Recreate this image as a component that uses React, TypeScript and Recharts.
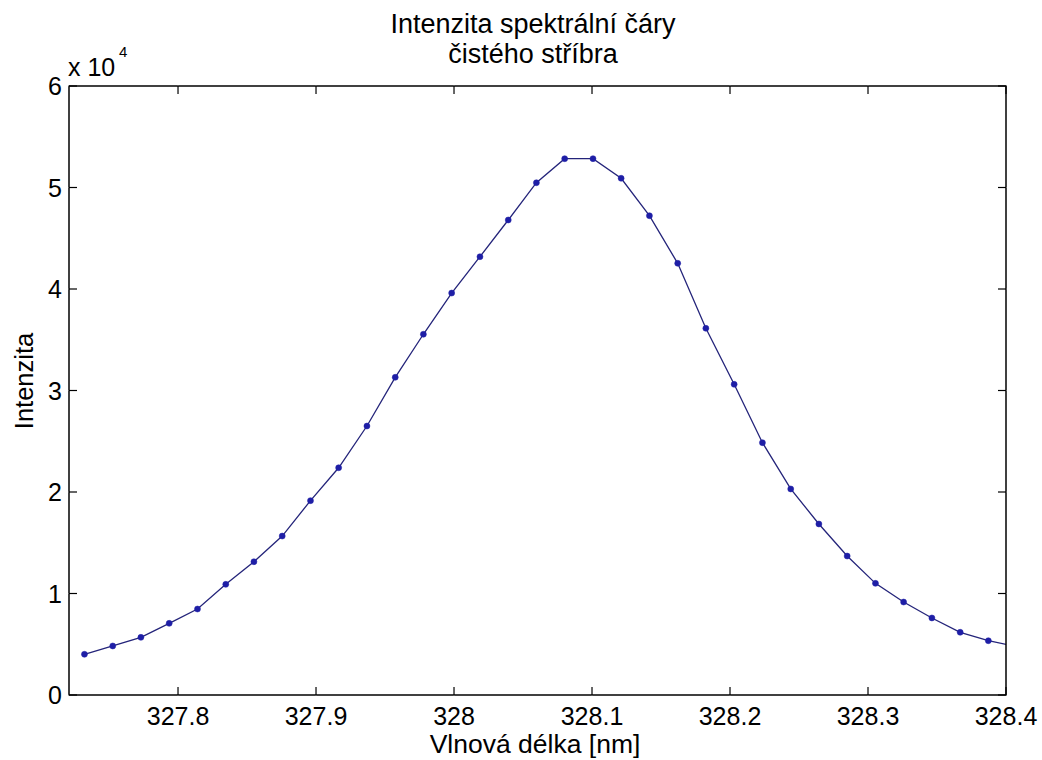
import React from "react"
import { LineChart, Line, XAxis, YAxis } from "recharts"

// wavelength [nm] of each sample
const wavelengths = [
  327.7322, 327.7527, 327.7731, 327.7936, 327.8141, 327.8346, 327.855, 327.8755,
  327.896, 327.9164, 327.9369, 327.9574, 327.9778, 327.9983, 328.0188, 328.0393,
  328.0597, 328.0802, 328.1007, 328.1211, 328.1416, 328.1621, 328.1825, 328.203,
  328.2235, 328.244, 328.2644, 328.2849, 328.3054, 328.3258, 328.3463, 328.3668,
  328.3872, 328.4077
]

// measured intensity
const intensity = [
  4010, 4830, 5680, 7060, 8470, 10900, 13130, 15660,
  19150, 22390, 26500, 31300, 35540, 39600, 43180, 46800,
  50470, 52840, 52840, 50910, 47220, 42530, 36130, 30610,
  24860, 20300, 16850, 13690, 11000, 9160, 7590, 6180,
  5350, 4770
]

const xTicks = [327.8, 327.9, 328, 328.1, 328.2, 328.3, 328.4]
const yTicks = [0, 10000, 20000, 30000, 40000, 50000, 60000]

const titleLines = ["Intenzita spektrální čáry", "čistého stříbra"]

const FONT = "'Liberation Sans', Arial, sans-serif"
const TICK = 8

// plot box (page pixels)
const LEFT = 69
const TOP = 86
const RIGHT = 1006
const BOTTOM = 695

const data = wavelengths.map((w, i) => ({ w, v: intensity[i] }))

const BottomTick = (props: any) => {
  const { x, payload } = props
  return (
    <g>
      <line x1={x} y1={BOTTOM} x2={x} y2={BOTTOM - TICK} stroke="#000" strokeWidth={1.2} />
      <text x={x} y={BOTTOM + 30} textAnchor="middle" fontSize={25} fontFamily={FONT} fill="#000">
        {String(payload.value)}
      </text>
    </g>
  )
}

const TopTick = (props: any) => {
  const { x } = props
  return <line x1={x} y1={TOP} x2={x} y2={TOP + TICK} stroke="#000" strokeWidth={1.2} />
}

const LeftTick = (props: any) => {
  const { y, payload } = props
  return (
    <g>
      <line x1={LEFT} y1={y} x2={LEFT + TICK} y2={y} stroke="#000" strokeWidth={1.2} />
      <text x={LEFT - 7} y={y + 9} textAnchor="end" fontSize={25} fontFamily={FONT} fill="#000">
        {String(payload.value / 10000)}
      </text>
    </g>
  )
}

const RightTick = (props: any) => {
  const { y } = props
  return <line x1={RIGHT} y1={y} x2={RIGHT - TICK} y2={y} stroke="#000" strokeWidth={1.2} />
}

export default function App() {
  return (
    <div style={{ position: "absolute", left: 0, top: 0, width: 1042, height: 760, background: "#fff" }}>
      <LineChart width={1042} height={760} data={data} margin={{ top: TOP - 1, right: 1042 - RIGHT - 1, bottom: 0, left: 0 }}>
        <XAxis
          dataKey="w"
          type="number"
          domain={[327.721, 328.4]}
          allowDataOverflow
          ticks={xTicks}
          interval={0}
          height={760 - BOTTOM}
          tickSize={1}
          tickMargin={0}
          tick={BottomTick}
          axisLine={{ stroke: "#000", strokeWidth: 1.5 }}
          label={{
            content: () => (
              <text x={535} y={753} textAnchor="middle" fontSize={26.5} fontFamily={FONT} fill="#000">
                Vlnová délka [nm]
              </text>
            )
          }}
        />
        <XAxis
          xAxisId="top"
          orientation="top"
          dataKey="w"
          type="number"
          domain={[327.721, 328.4]}
          allowDataOverflow
          ticks={xTicks}
          interval={0}
          height={1}
          tickSize={1}
          tickMargin={0}
          tick={TopTick}
          axisLine={{ stroke: "#000", strokeWidth: 1.5 }}
          label={{
            content: () => (
              <g fontFamily={FONT} fill="#000">
                <text x={533} y={33} textAnchor="middle" fontSize={27}>{titleLines[0]}</text>
                <text x={533} y={63} textAnchor="middle" fontSize={27}>{titleLines[1]}</text>
                <text x={68} y={76} fontSize={25}>x 10</text>
                <text x={119} y={57} fontSize={15}>4</text>
              </g>
            )
          }}
        />
        <YAxis
          type="number"
          domain={[0, 60000]}
          allowDataOverflow
          ticks={yTicks}
          interval={0}
          width={LEFT}
          tickSize={1}
          tickMargin={0}
          tick={LeftTick}
          axisLine={{ stroke: "#000", strokeWidth: 1.5 }}
          label={{
            content: () => (
              <text
                x={33}
                y={381}
                transform="rotate(-90 33 381)"
                textAnchor="middle"
                fontSize={25.5}
                fontFamily={FONT}
                fill="#000"
              >
                Intenzita
              </text>
            )
          }}
        />
        <YAxis
          yAxisId="right"
          orientation="right"
          type="number"
          domain={[0, 60000]}
          allowDataOverflow
          ticks={yTicks}
          interval={0}
          width={1}
          tickSize={1}
          tickMargin={0}
          tick={RightTick}
          axisLine={{ stroke: "#000", strokeWidth: 1.5 }}
        />
        <Line
          type="linear"
          dataKey="v"
          stroke="#24247a"
          strokeWidth={1.3}
          dot={{ r: 3, fill: "#1e1ea6", stroke: "#1e1ea6", strokeWidth: 0.5 }}
          isAnimationActive={false}
        />
      </LineChart>
    </div>
  )
}
